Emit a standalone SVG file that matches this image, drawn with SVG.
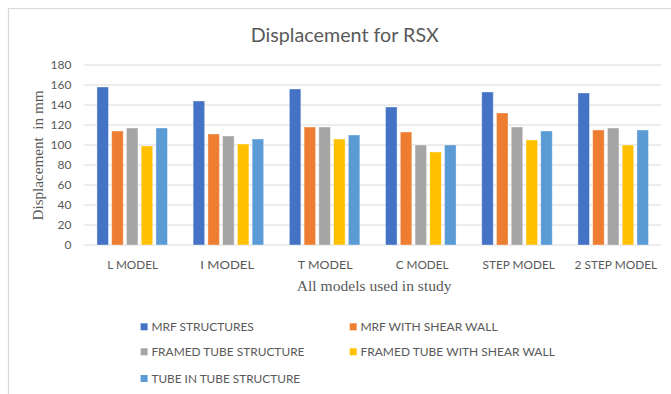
<svg xmlns="http://www.w3.org/2000/svg" width="671" height="394" viewBox="0 0 671 394">
  <style>
    .frame { stroke: #d9d9d9; stroke-width: 1.2; fill: none; }
    .grid { stroke: #d9d9d9; stroke-width: 1; }
    .tick { font-family: Lato, "Liberation Sans", sans-serif; font-size: 12px; fill: #595959; }
    .cat { font-family: Lato, "Liberation Sans", sans-serif; font-size: 12px; fill: #595959; text-anchor: middle; }
    .leg { font-family: Lato, "Liberation Sans", sans-serif; font-size: 12px; fill: #595959; }
    .title { font-family: Lato, "Liberation Sans", sans-serif; font-size: 19.5px; fill: #595959; }
    .axt { font-family: "Liberation Serif", "Times New Roman", serif; font-size: 15px; fill: #595959; white-space: pre; }
    .s1 { fill: #4472c4; } .s2 { fill: #ed7d31; } .s3 { fill: #a5a5a5; } .s4 { fill: #ffc000; } .s5 { fill: #5b9bd5; }
    .bar { stroke: #ffffff; stroke-opacity: 0.45; stroke-width: 0.8; }
  </style>

  <rect width="671" height="394" fill="#ffffff"/>
  <!-- chart border (top and left edges) -->
  <path class="frame" d="M8.5 394 V8.5 H671"/>

  <g id="title">
    <text class="title" x="250.8" y="42" textLength="188" lengthAdjust="spacingAndGlyphs">Displacement for RSX</text>
  </g>

  <!-- value axis: gridlines and labels -->
  <g id="value-axis">
    <g class="grid">
      <line x1="84" y1="65" x2="661" y2="65"/>
      <line x1="84" y1="85" x2="661" y2="85"/>
      <line x1="84" y1="105" x2="661" y2="105"/>
      <line x1="84" y1="125" x2="661" y2="125"/>
      <line x1="84" y1="145" x2="661" y2="145"/>
      <line x1="84" y1="165" x2="661" y2="165"/>
      <line x1="84" y1="185" x2="661" y2="185"/>
      <line x1="84" y1="205" x2="661" y2="205"/>
      <line x1="84" y1="225" x2="661" y2="225"/>
      <line x1="84" y1="245" x2="661" y2="245"/>
    </g>
    <g class="tick" text-anchor="end">
      <text x="71.5" y="69.3">180</text>
      <text x="71.5" y="89.3">160</text>
      <text x="71.5" y="109.3">140</text>
      <text x="71.5" y="129.3">120</text>
      <text x="71.5" y="149.3">100</text>
      <text x="71.5" y="169.3">80</text>
      <text x="71.5" y="189.3">60</text>
      <text x="71.5" y="209.3">40</text>
      <text x="71.5" y="229.3">20</text>
      <text x="71.5" y="249.3">0</text>
    </g>
    <text class="axt" xml:space="preserve" transform="translate(43 155.5) rotate(-90)" text-anchor="middle" textLength="130" lengthAdjust="spacingAndGlyphs">Displacement  in mm</text>
  </g>

  <!-- bars: one group per model, five series each -->
  <g id="bars" class="bar">
    <g id="l-model">
      <rect class="s1" x="96.95" y="87" width="11.5" height="158"/>
      <rect class="s2" x="111.7" y="131" width="11.5" height="114"/>
      <rect class="s3" x="126.45" y="128" width="11.5" height="117"/>
      <rect class="s4" x="141.2" y="146" width="11.5" height="99"/>
      <rect class="s5" x="155.95" y="128" width="11.5" height="117"/>
    </g>
    <g id="i-model">
      <rect class="s1" x="193.15" y="101" width="11.5" height="144"/>
      <rect class="s2" x="207.9" y="134" width="11.5" height="111"/>
      <rect class="s3" x="222.65" y="136" width="11.5" height="109"/>
      <rect class="s4" x="237.4" y="144" width="11.5" height="101"/>
      <rect class="s5" x="252.15" y="139" width="11.5" height="106"/>
    </g>
    <g id="t-model">
      <rect class="s1" x="289.35" y="89" width="11.5" height="156"/>
      <rect class="s2" x="304.1" y="127" width="11.5" height="118"/>
      <rect class="s3" x="318.85" y="127" width="11.5" height="118"/>
      <rect class="s4" x="333.6" y="139" width="11.5" height="106"/>
      <rect class="s5" x="348.35" y="135" width="11.5" height="110"/>
    </g>
    <g id="c-model">
      <rect class="s1" x="385.55" y="107" width="11.5" height="138"/>
      <rect class="s2" x="400.3" y="132" width="11.5" height="113"/>
      <rect class="s3" x="415.05" y="145" width="11.5" height="100"/>
      <rect class="s4" x="429.8" y="152" width="11.5" height="93"/>
      <rect class="s5" x="444.55" y="145" width="11.5" height="100"/>
    </g>
    <g id="step-model">
      <rect class="s1" x="481.75" y="92" width="11.5" height="153"/>
      <rect class="s2" x="496.5" y="113" width="11.5" height="132"/>
      <rect class="s3" x="511.25" y="127" width="11.5" height="118"/>
      <rect class="s4" x="526" y="140" width="11.5" height="105"/>
      <rect class="s5" x="540.75" y="131" width="11.5" height="114"/>
    </g>
    <g id="two-step-model">
      <rect class="s1" x="577.95" y="93" width="11.5" height="152"/>
      <rect class="s2" x="592.7" y="130" width="11.5" height="115"/>
      <rect class="s3" x="607.45" y="128" width="11.5" height="117"/>
      <rect class="s4" x="622.2" y="145" width="11.5" height="100"/>
      <rect class="s5" x="636.95" y="130" width="11.5" height="115"/>
    </g>
  </g>

  <!-- category axis -->
  <g id="category-axis">
    <text class="cat" x="132.6" y="268.5" textLength="50.8" lengthAdjust="spacingAndGlyphs">L MODEL</text>
    <text class="cat" x="227.2" y="268.5" textLength="53.8" lengthAdjust="spacingAndGlyphs">I MODEL</text>
    <text class="cat" x="325.2" y="268.5" textLength="54.7" lengthAdjust="spacingAndGlyphs">T MODEL</text>
    <text class="cat" x="422.1" y="268.5" textLength="52.9" lengthAdjust="spacingAndGlyphs">C MODEL</text>
    <text class="cat" x="518.7" y="268.5" textLength="72.2" lengthAdjust="spacingAndGlyphs">STEP MODEL</text>
    <text class="cat" x="615.9" y="268.5" textLength="82.6" lengthAdjust="spacingAndGlyphs">2 STEP MODEL</text>
    <text class="axt" x="374.2" y="290.5" text-anchor="middle" font-size="15.5" textLength="154.8" lengthAdjust="spacingAndGlyphs">All models used in study</text>
  </g>

  <!-- legend -->
  <g id="legend">
    <g id="legend-mrf">
      <rect class="s1" x="140.6" y="323.3" width="7" height="7"/>
      <text class="leg" x="151.4" y="331" textLength="102.4" lengthAdjust="spacingAndGlyphs">MRF STRUCTURES</text>
    </g>
    <g id="legend-mrf-shear">
      <rect class="s2" x="349.7" y="323.3" width="7" height="7"/>
      <text class="leg" x="360.4" y="331" textLength="137.2" lengthAdjust="spacingAndGlyphs">MRF WITH SHEAR WALL</text>
    </g>
    <g id="legend-framed">
      <rect class="s3" x="140.6" y="348.3" width="7" height="7"/>
      <text class="leg" x="151.4" y="356" textLength="153.1" lengthAdjust="spacingAndGlyphs">FRAMED TUBE STRUCTURE</text>
    </g>
    <g id="legend-framed-shear">
      <rect class="s4" x="349.7" y="348.3" width="7" height="7"/>
      <text class="leg" x="360.4" y="356" textLength="194.4" lengthAdjust="spacingAndGlyphs">FRAMED TUBE WITH SHEAR WALL</text>
    </g>
    <g id="legend-tube">
      <rect class="s5" x="140.6" y="375" width="7" height="7"/>
      <text class="leg" x="151.4" y="382.7" textLength="148.8" lengthAdjust="spacingAndGlyphs">TUBE IN TUBE STRUCTURE</text>
    </g>
  </g>
</svg>
